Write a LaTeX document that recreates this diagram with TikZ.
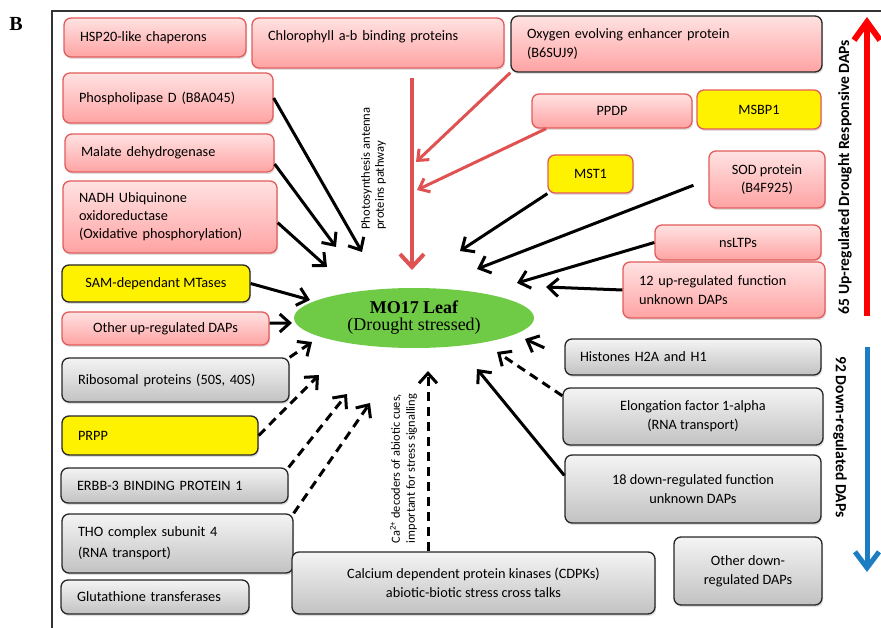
\documentclass[tikz,border=0pt]{standalone}
\usepackage{fontspec}
\setmainfont{Carlito}
\newfontfamily\leafserif{Liberation Serif}
\usetikzlibrary{arrows.meta,shadows,shapes.geometric}
\definecolor{pinktop}{HTML}{FFE2E2}
\definecolor{pinkbot}{HTML}{FFA3A3}
\definecolor{pinkline}{HTML}{E25C5C}
\definecolor{graytop}{HTML}{F4F4F4}
\definecolor{graybot}{HTML}{C2C2C2}
\definecolor{leafgreen}{HTML}{6FCB45}
\definecolor{pathred}{HTML}{E05252}
\definecolor{downblue}{HTML}{1C7DC2}
\begin{document}
\begin{tikzpicture}[x=1pt, y=-1pt, >={Straight Barb[length=10pt,width=18pt]},
    every node/.style={font=\fontsize{14.3}{19}\selectfont},
    dapbox/.style={rounded corners=7pt, line width=1.3pt, align=center,
      drop shadow={opacity=0.25, shadow xshift=1pt, shadow yshift=-2pt}},
    pinkbox/.style={dapbox, draw=pinkline, top color=pinktop, bottom color=pinkbot},
    graybox/.style={dapbox, draw=black!85, top color=graytop, bottom color=graybot},
    yellowbox/.style={dapbox, draw=black!85, fill=yellow},
    redyellow/.style={dapbox, draw=pinkline, fill=yellow},
    lefttext/.style={align=left, inner xsep=16pt, text width=#1},
    arr/.style={->, line width=3pt},
    darr/.style={->, line width=3pt, dash pattern=on 9pt off 6pt},
    redarr/.style={->, pathred, line width=3pt, >={Straight Barb[length=9pt,width=15pt]}},
    sidelabel/.style={font=\bfseries\fontsize{15.6}{17}\selectfont}]
    \useasboundingbox (0,0) rectangle (881,628);
    \draw[line width=1.2pt, black!80] (52,628) -- (52,11) -- (881,11);
    \node[font=\leafserif\bfseries\fontsize{20}{20}\selectfont] (panel) at (16,24) {B};

    \node[ellipse, fill=leafgreen, minimum width=240, minimum height=60, inner sep=0pt, align=center,
      font=\leafserif\fontsize{18}{17}\selectfont] (leaf) at (414,318)
      {\bfseries MO17 Leaf\\(Drought stressed)};

    \node[pinkbox, lefttext=150pt, minimum height=39] (hsp) at (155,37.5) {HSP20-like chaperons};
    \node[pinkbox, lefttext=220pt, minimum height=50, text depth=15pt] (chl) at (378,43) {Chlorophyll a-b binding proteins};
    \node[pinkbox, draw=black!85, lefttext=279pt, minimum height=56] (oxy) at (666.5,44) {Oxygen evolving enhancer protein\\(B6SUJ9)};
    \node[pinkbox, minimum width=160, minimum height=34] (ppdp) at (612,111) {PPDP};
    \node[redyellow, minimum width=124, minimum height=39] (msbp) at (759,109.5) {MSBP1};
    \node[pinkbox, lefttext=178pt, minimum height=50] (phos) at (168,98) {Phospholipase D (B8A045)};
    \node[pinkbox, lefttext=177pt, minimum height=38] (mdh) at (169.5,153) {Malate dehydrogenase};
    \node[pinkbox, lefttext=182pt, minimum height=72, font=\fontsize{14.3}{18}\selectfont] (nadh) at (170,217) {NADH Ubiquinone\\oxidoreductase\\(Oxidative phosphorylation)};
    \node[yellowbox, minimum width=188, minimum height=37] (sam) at (156,283.5) {SAM-dependant MTases};
    \node[pinkbox, minimum width=207, minimum height=33] (oup) at (165.5,328.5) {Other up-regulated DAPs};
    \node[graybox, lefttext=195pt, minimum height=44] (ribo) at (175.5,380) {Ribosomal proteins (50S, 40S)};
    \node[yellowbox, lefttext=164pt, minimum height=39] (prpp) at (160,435.5) {PRPP};
    \node[graybox, lefttext=195pt, minimum height=35] (erbb) at (174.5,485.5) {ERBB-3 BINDING PROTEIN 1};
    \node[graybox, lefttext=199pt, minimum height=59, font=\fontsize{14.3}{21}\selectfont] (tho) at (177.5,543.5) {THO complex subunit 4\\(RNA transport)};
    \node[graybox, lefttext=156pt, minimum height=34] (glut) at (155,597) {Glutathione transferases};
    \node[graybox, minimum width=363, minimum height=62] (cdpk) at (473.5,583) {Calcium dependent protein kinases (CDPKs)\\abiotic-biotic stress cross talks};

    \node[redyellow, minimum width=85, minimum height=38] (mst) at (590.5,174) {MST1};
    \node[pinkbox, minimum width=116, minimum height=57, font=\fontsize{14.3}{18}\selectfont] (sod) at (767,179.5) {SOD protein\\(B4F925)};
    \node[pinkbox, minimum width=166, minimum height=35] (nsltp) at (738,242.5) {nsLTPs};
    \node[pinkbox, lefttext=170pt, minimum height=56] (uup) at (724,290) {12 up-regulated function\\unknown DAPs};
    \node[graybox, lefttext=226pt, inner xsep=15pt, minimum height=36] (hist) at (693,357) {Histones H2A and H1};
    \node[graybox, minimum width=260, minimum height=57] (elong) at (693,416.5) {Elongation factor 1-alpha\\(RNA transport)};
    \node[graybox, minimum width=256, minimum height=68] (ddown) at (693,489) {18 down-regulated function\\unknown DAPs};
    \node[graybox, minimum width=148, minimum height=68] (odown) at (748,571) {Other down-\\regulated DAPs};

    \node[rotate=90, align=left, font=\fontsize{12.6}{14}\selectfont] (photo) at (373.5,168.5) {Photosynthesis antenna\\proteins pathway};
    \node[rotate=90, align=left, font=\fontsize{12.4}{15}\selectfont] (calc) at (403.5,468.5) {Ca\textsuperscript{2+} decoders of abiotic cues,\\important for stress signalling};

    \coordinate (tphos) at (362,252);
    \coordinate (tmdh) at (336,247);
    \coordinate (tnadh) at (327,267);
    \coordinate (tsam) at (310,300);
    \coordinate (toup) at (292,323);
    \coordinate (tribo) at (312,342);
    \coordinate (tprpp) at (319,375);
    \coordinate (terbb) at (347,394);
    \coordinate (ttho) at (370,403);
    \coordinate (tcd) at (428,371);
    \coordinate (tchl) at (412,270);
    \coordinate (toxy) at (416,162);
    \coordinate (tppdp) at (417,190);
    \coordinate (tmst) at (460,251);
    \coordinate (tsod) at (477,269);
    \coordinate (tns) at (517,283);
    \coordinate (tuup) at (546,287);
    \coordinate (thist) at (525,339);
    \coordinate (telong) at (497,352);
    \coordinate (tdd) at (477,369);

    \draw[arr] (phos.east) -- (tphos);
    \draw[arr] (mdh.-6.5) -- (tmdh);
    \draw[arr] (nadh.-3) -- (tnadh);
    \draw[arr] (sam.east) -- (tsam);
    \draw[arr] (oup.3) -- (toup);
    \draw[darr] (ribo.north east) -- (tribo);
    \draw[darr] (prpp.east) -- (tprpp);
    \draw[darr] (erbb.north east) -- (terbb);
    \draw[darr] (tho.north east) -- (ttho);
    \draw[darr] (cdpk.north -| tcd) -- (tcd);

    \draw[redarr, line width=4pt, shorten <=9pt, >={Straight Barb[length=13pt,width=24pt]}] (chl.south -| tchl) -- (tchl);
    \draw[redarr] (oxy.south west) -- (toxy);
    \draw[redarr] (ppdp.-165) -- (tppdp);

    \draw[arr] (mst.south west) -- (tmst);
    \draw[arr, shorten <=16pt] (sod.west) -- (tsod);
    \draw[arr] (nsltp.west) -- (tns);
    \draw[arr] (uup.west) -- (tuup);
    \draw[arr, shorten <=22pt] (hist.west) -- (thist);
    \draw[darr] (elong.171.5) -- (telong);
    \draw[arr] (ddown.174.6) -- (tdd);

    \coordinate (upbot) at (867,316);
    \coordinate (uptop) at (867,17);
    \coordinate (dntop) at (867,347);
    \coordinate (dnbot) at (867,572);
    \draw[->, red, line width=6pt, >={Straight Barb[length=18pt,width=26pt]}] (upbot) -- (uptop);
    \draw[->, downblue, line width=5pt, >={Straight Barb[length=16pt,width=24pt]}] (dntop) -- (dnbot);
    \node[sidelabel, rotate=90] (uplabel) at (845,177) {65 Up-regulated Drought Responsive DAPs};
    \node[sidelabel, rotate=-90] (dnlabel) at (840,437) {92 Down-regulated DAPs};
\end{tikzpicture}
\end{document}
